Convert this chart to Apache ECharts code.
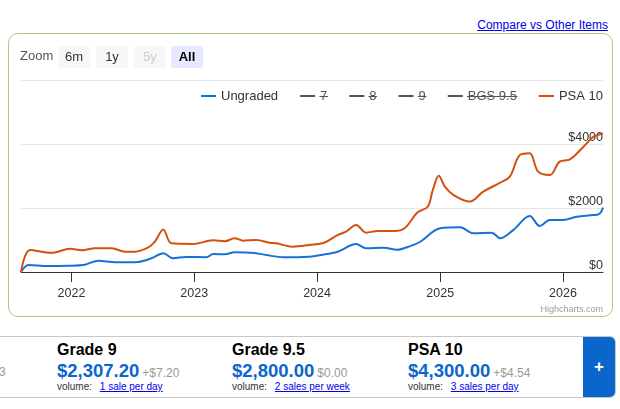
<!DOCTYPE html>
<html>
<head>
<meta charset="utf-8">
<script src="https://cdn.jsdelivr.net/npm/echarts@6/dist/echarts.min.js"></script>
<style>
  html, body { margin:0; padding:0; width:620px; height:409px; overflow:hidden; background:#fff;
    font-family:"Liberation Sans", Arial, Helvetica, sans-serif; }
  #link { position:absolute; right:12px; top:18px; font-size:12px; color:#0000ee; text-decoration:underline; white-space:nowrap; }
  #box { position:absolute; left:8px; top:33px; width:605px; height:284px; box-sizing:border-box;
    border:1px solid #a6cc7e; border-radius:10px; }
  #chart { position:absolute; left:0; top:0; width:620px; height:409px; }
  #panel { position:absolute; left:-10px; top:336px; width:626px; height:62px; box-sizing:border-box;
    border:1px solid #c8c8c8; border-radius:0 6px 6px 0; overflow:hidden; }
  #plus { position:absolute; right:0; top:0; width:32px; height:100%; background:#0b66cc; color:#fff;
    font-weight:bold; font-size:17px; text-align:center; line-height:60px; }
  .col { position:absolute; top:4px; white-space:nowrap; }
  .g { font-weight:bold; font-size:16px; color:#000; line-height:18px; }
  .p { margin-top:1px; line-height:22px; }
  .p b { font-size:18.5px; color:#0b66cc; }
  .p span { font-size:12px; color:#999; margin-left:3px; }
  .v { font-size:10px; color:#333; line-height:12px; margin-top:-3px; }
  .v a { color:#0000ee; text-decoration:underline; margin-left:5px; }
  #cut { position:absolute; top:28px; font-size:12px; color:#999; }
</style>
</head>
<body>
<a id="link" href="#">Compare vs Other Items</a>
<div id="box"></div>
<div id="panel">
  <div id="cut" style="left:8px;">3</div>
  <div class="col" style="left:66px;">
    <div class="g">Grade 9</div>
    <div class="p"><b>$2,307.20</b><span>+$7.20</span></div>
    <div class="v">volume: <a href="#">1 sale per day</a></div>
  </div>
  <div class="col" style="left:241px;">
    <div class="g">Grade 9.5</div>
    <div class="p"><b>$2,800.00</b><span>$0.00</span></div>
    <div class="v">volume: <a href="#">2 sales per week</a></div>
  </div>
  <div class="col" style="left:417px;">
    <div class="g">PSA 10</div>
    <div class="p"><b>$4,300.00</b><span>+$4.54</span></div>
    <div class="v">volume: <a href="#">3 sales per day</a></div>
  </div>
  <div id="plus">+</div>
</div>
<div id="chart"></div>
<script>
// ---- data ----
const legendNames = ['Ungraded', '7', '8', '9', 'BGS 9.5', 'PSA 10'];
const hiddenNames = ['7', '8', '9', 'BGS 9.5'];
const yearTicks = ['2022-01-01', '2023-01-01', '2024-01-01', '2025-01-01', '2026-01-01'];
const yTicks = [0, 2000, 4000, 6000];
const xStart = '2021-08-04';
const xEnd = '2026-04-30';

const psaDates = ['2021-08-04','2021-08-31','2021-11-03','2021-12-28','2022-02-01','2022-03-12','2022-05-01',
  '2022-06-09','2022-07-08','2022-08-16','2022-09-06','2022-10-01','2022-10-25','2022-12-29','2023-02-26',
  '2023-04-02','2023-05-01','2023-05-26','2023-07-04','2023-08-13','2023-09-02','2023-10-21','2023-12-09',
  '2024-01-22','2024-03-02','2024-03-27','2024-04-26','2024-05-26','2024-06-29','2024-08-18','2024-09-17',
  '2024-10-26','2024-11-25','2024-12-10','2024-12-28','2025-01-15','2025-02-10','2025-03-30','2025-05-09',
  '2025-06-28','2025-07-27','2025-08-26','2025-09-24','2025-10-19','2025-11-23','2025-12-22','2026-01-22',
  '2026-03-03','2026-04-02','2026-04-30'];
const psaValues = [0,690,600,730,680,740,740,
  635,635,760,950,1330,895,875,990,
  960,1055,980,1000,915,895,790,845,
  915,1155,1260,1470,1230,1280,1280,1365,
  1865,2040,2560,3010,2670,2405,2200,2510,
  2790,2980,3655,3710,3135,3030,3450,3520,
  3915,4230,4330];

const ungradedDates = ['2021-08-04','2021-08-26','2021-10-24','2021-12-22','2022-02-10','2022-03-22','2022-05-11',
  '2022-06-19','2022-07-18','2022-08-27','2022-10-01','2022-10-30','2022-12-08','2023-02-06','2023-02-26',
  '2023-04-02','2023-05-01','2023-06-29','2023-08-03','2023-09-22','2023-12-09','2024-01-12','2024-03-02',
  '2024-04-26','2024-05-26','2024-07-17','2024-08-26','2024-10-04','2024-11-03','2025-01-01','2025-03-01',
  '2025-04-10','2025-06-03','2025-06-28','2025-08-06','2025-09-24','2025-10-24','2025-11-23','2026-01-02',
  '2026-02-11','2026-04-02','2026-04-20','2026-04-30'];
const ungradedValues = [0,220,185,195,230,355,305,
  305,315,430,585,430,470,460,560,
  555,615,595,530,460,480,530,635,
  875,740,760,695,810,945,1365,1395,
  1210,1230,1055,1310,1750,1440,1625,1625,
  1730,1780,1820,2010];

const zoomButtons = ['6m', '1y', '5y', 'All'];

// ---- helpers ----
function ts(s) { const p = s.split('-').map(Number); return new Date(p[0], p[1] - 1, p[2]).getTime(); }
function pairs(d, v) { return d.map((x, i) => [ts(x), v[i]]); }

const FONT = '"Liberation Sans", Arial, Helvetica, sans-serif';
const chart = echarts.init(document.getElementById('chart'), null, { renderer: 'canvas' });

const selected = {};
hiddenNames.forEach(n => selected[n] = false);

const btnX = [58, 96, 134, 171];
const graphic = [
  { type: 'text', left: 20, top: 50, style: { text: 'Zoom', font: '13px ' + FONT, fill: '#555' } }
];
zoomButtons.forEach((b, i) => {
  const isAll = b === 'All', dis = b === '5y';
  graphic.push({ type: 'rect', shape: { x: btnX[i], y: 46, width: 32, height: 22, r: 2 },
    style: { fill: isAll ? '#e6e9ff' : '#f7f7f7' } });
  graphic.push({ type: 'text', x: btnX[i] + 16, y: 57,
    style: { text: b, font: (isAll ? 'bold ' : '') + '13px ' + FONT, fill: isAll ? '#000' : (dis ? '#cccccc' : '#333'),
      align: 'center', verticalAlign: 'middle' } });
});
graphic.push({ type: 'text', right: 17, top: 305,
  style: { text: 'Highcharts.com', font: '9px ' + FONT, fill: '#999' } });
// strike-through for hidden legend items
[[319.5, 328], [368.5, 377], [418, 426.5], [467, 517.5]].forEach(s => {
  graphic.push({ type: 'line', shape: { x1: s[0], y1: 96.5, x2: s[1], y2: 96.5 }, style: { stroke: '#555', lineWidth: 1 }, z: 100 });
});

const series = [
  { name: 'Ungraded', type: 'line', data: pairs(ungradedDates, ungradedValues), color: '#1771d6' },
  ...hiddenNames.map(n => ({ name: n, type: 'line', data: [], color: '#555' })),
  { name: 'PSA 10', type: 'line', data: pairs(psaDates, psaValues), color: '#d4500e' }
].map(s => Object.assign(s, { smooth: 0.35, showSymbol: false, symbol: 'none', lineStyle: { width: 2 } }));

chart.setOption({
  animation: false,
  textStyle: { fontFamily: FONT },
  grid: { left: 21, right: 17, top: 80, bottom: 137 },
  legend: {
    data: legendNames, selected: selected, right: 17, top: 89.5, padding: 0, icon: 'rect', itemWidth: 15, itemHeight: 2,
    itemGap: 22, inactiveColor: '#555', textStyle: { fontSize: 13, color: '#333', fontFamily: FONT }
  },
  xAxis: {
    type: 'value', min: ts(xStart), max: ts(xEnd), scale: true,
    axisLine: { lineStyle: { color: '#333', width: 1 } },
    axisTick: { show: true, length: 10, lineStyle: { color: '#333' }, customValues: yearTicks.map(ts) },
    axisLabel: { customValues: yearTicks.map(ts), margin: 15, fontSize: 12.5, color: '#333',
      formatter: v => String(new Date(v).getFullYear()) },
    splitLine: { show: false }
  },
  yAxis: {
    type: 'value', position: 'right', min: yTicks[0], max: yTicks[yTicks.length - 1], interval: 2000,
    axisLine: { show: false }, axisTick: { show: false },
    axisLabel: { inside: true, margin: 0, showMaxLabel: false, verticalAlign: 'bottom', fontSize: 12.5, color: '#333',
      formatter: v => '$' + v },
    splitLine: { lineStyle: { color: '#e6e6e6' } }
  },
  graphic: graphic,
  series: series
});
</script>
</body>
</html>
